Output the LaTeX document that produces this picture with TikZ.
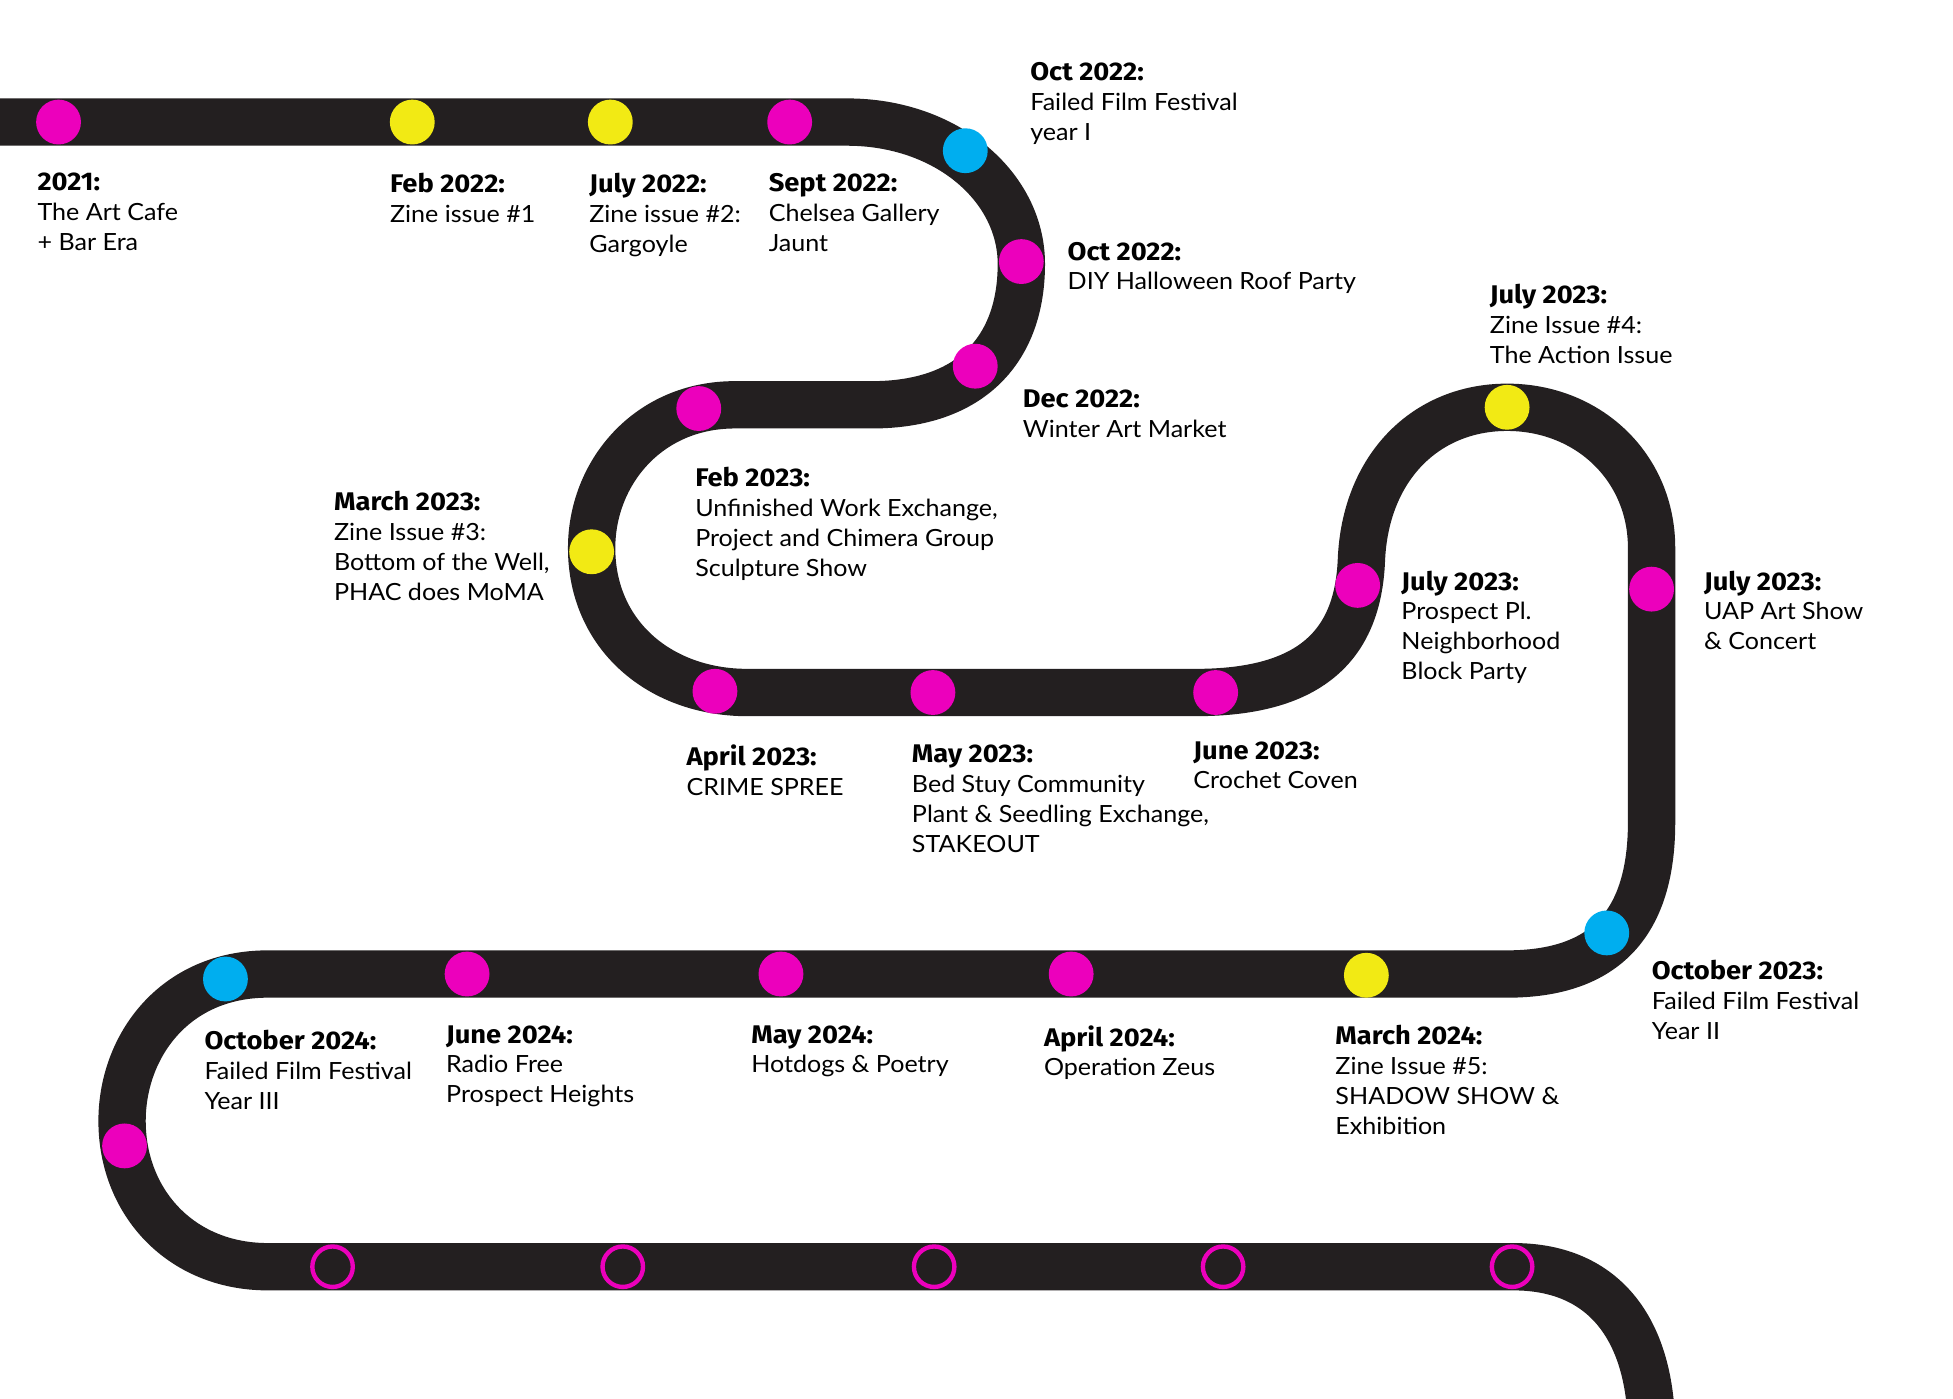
\documentclass[tikz,border=0pt]{standalone}
\usepackage{fontspec}
\setmainfont{Lato}[FakeStretch=1.06]
\newfontfamily\hdfont{Fira Sans}[FakeStretch=1.07]
\definecolor{bandc}{HTML}{231F20}
\definecolor{mag}{HTML}{EC00BC}
\definecolor{yel}{HTML}{F2EA14}
\definecolor{cya}{HTML}{00AEEF}
\newcommand\hd[1]{{\hdfont\bfseries\fontsize{20.5}{24}\selectfont #1}}
\tikzset{
  dotn/.style={circle, minimum size=36pt, inner sep=0pt, fill=#1},
  ring/.style={circle, minimum size=32.5pt, inner sep=0pt, draw=mag, line width=3.5pt},
  lbl/.style={anchor=north west, inner sep=0pt, align=left, text=black,
    font=\fontsize{19}{24}\selectfont},
  bandline/.style={draw=bandc, line width=38pt},
}
\begin{document}
\begin{tikzpicture}[x=1pt, y=-1pt]
\useasboundingbox (0,0) rectangle (1568,1123);
\clip (0,0) rectangle (1568,1123);
\fill[white] (0,0) rectangle (1568,1123);
% the track
\draw[bandline] (-20,98) -- (680,98)
  .. controls (760,98) and (820,150) .. (820,212)
  .. controls (820,280) and (780,325) .. (700,325)
  -- (590,325)
  .. controls (520,325) and (475,380) .. (475,440)
  .. controls (475,510) and (530,556) .. (600,556)
  -- (960,556)
  .. controls (1050,556) and (1090,520) .. (1093,450)
  .. controls (1096,375) and (1145,327) .. (1210,327)
  .. controls (1275,327) and (1326,375) .. (1326,440)
  -- (1326,660)
  .. controls (1326,740) and (1290,782) .. (1210,782)
  -- (215,782)
  .. controls (140,782) and (98,840) .. (98,900)
  .. controls (98,965) and (145,1017) .. (215,1017)
  -- (1215,1017)
  .. controls (1290,1017) and (1326,1070) .. (1326,1150);
% dots
\node[dotn=mag] (d1) at (47,98) {};
\node[dotn=yel] (d2) at (331,98) {};
\node[dotn=yel] (d3) at (490,98) {};
\node[dotn=mag] (d4) at (634,98) {};
\node[dotn=cya] (d5) at (775,121) {};
\node[dotn=mag] (d6) at (820,210) {};
\node[dotn=mag] (d7) at (783,294) {};
\node[dotn=mag] (d8) at (561,328) {};
\node[dotn=yel] (d9) at (475,443) {};
\node[dotn=mag] (d10) at (574,555) {};
\node[dotn=mag] (d11) at (749,556) {};
\node[dotn=mag] (d12) at (976,556) {};
\node[dotn=mag] (d13) at (1090,470) {};
\node[dotn=yel] (d14) at (1210,327) {};
\node[dotn=mag] (d15) at (1326,473) {};
\node[dotn=cya] (d16) at (1290,749) {};
\node[dotn=yel] (d17) at (1097,783) {};
\node[dotn=mag] (d18) at (860,782) {};
\node[dotn=mag] (d19) at (627,782) {};
\node[dotn=mag] (d20) at (375,782) {};
\node[dotn=cya] (d21) at (181,786) {};
\node[dotn=mag] (d22) at (100,920) {};
% open rings
\node[ring] (h1) at (267,1017) {};
\node[ring] (h2) at (500,1017) {};
\node[ring] (h3) at (750,1017) {};
\node[ring] (h4) at (982,1017) {};
\node[ring] (h5) at (1214,1017) {};
% labels
\node[lbl] (l1) at (30,139) {\hd{2021:}\\The Art Cafe\\+ Bar Era};
\node[lbl] (l2) at (313,139) {\hd{Feb 2022:}\\Zine issue \#1};
\node[lbl] (l3) at (473,139) {\hd{July 2022:}\\Zine issue \#2:\\Gargoyle};
\node[lbl] (l4) at (617,139) {\hd{Sept 2022:}\\Chelsea Gallery\\Jaunt};
\node[lbl] (l5) at (827,50) {\hd{Oct 2022:}\\Failed Film Festival\\year I};
\node[lbl] (l6) at (857,194) {\hd{Oct 2022:}\\DIY Halloween Roof Party};
\node[lbl] (l7) at (821,313) {\hd{Dec 2022:}\\Winter Art Market};
\node[lbl] (l8) at (1196,228) {\hd{July 2023:}\\Zine Issue \#4:\\The Action Issue};
\node[lbl] (l9) at (558,375) {\hd{Feb 2023:}\\Unfinished Work Exchange,\\Project and Chimera Group\\Sculpture Show};
\node[lbl] (l10) at (268,394) {\hd{March 2023:}\\Zine Issue \#3:\\Bottom of the Well,\\PHAC does MoMA};
\node[lbl] (l11) at (1125,458) {\hd{July 2023:}\\Prospect Pl.\\Neighborhood\\Block Party};
\node[lbl] (l12) at (1368,458) {\hd{July 2023:}\\UAP Art Show\\\& Concert};
\node[lbl] (l13) at (551,598) {\hd{April 2023:}\\CRIME SPREE};
\node[lbl] (l14) at (732,598) {\hd{May 2023:}\\Bed Stuy Community\\Plant \& Seedling Exchange,\\STAKEOUT};
\node[lbl] (l15) at (958,595) {\hd{June 2023:}\\Crochet Coven};
\node[lbl] (l16) at (1326,771) {\hd{October 2023:}\\Failed Film Festival\\Year II};
\node[lbl] (l17) at (164,827) {\hd{October 2024:}\\Failed Film Festival\\Year III};
\node[lbl] (l18) at (358,823) {\hd{June 2024:}\\Radio Free\\Prospect Heights};
\node[lbl] (l19) at (603,823) {\hd{May 2024:}\\Hotdogs \& Poetry};
\node[lbl] (l20) at (838,823) {\hd{April 2024:}\\Operation Zeus};
\node[lbl] (l21) at (1072,823) {\hd{March 2024:}\\Zine Issue \#5:\\SHADOW SHOW \&\\Exhibition};
\end{tikzpicture}
\end{document}
